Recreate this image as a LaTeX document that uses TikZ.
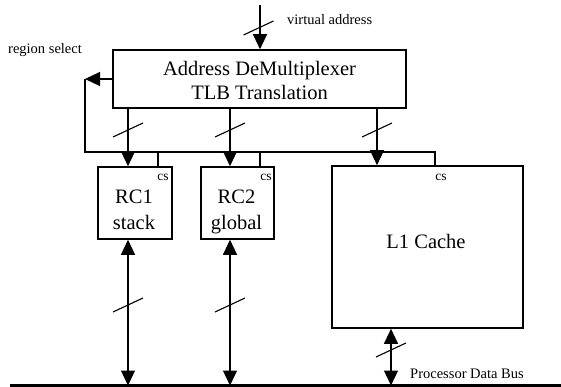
\documentclass[tikz,border=0pt]{standalone}
\usepackage{fontspec}
\setmainfont{Liberation Serif}
\usetikzlibrary{arrows.meta}

\begin{document}
\begin{tikzpicture}[x=1pt,y=-1pt,
  wire/.style={line width=1.2pt},
  arr/.style={wire,-{Triangle[length=15pt,width=14pt]}},
  biarr/.style={wire,{Triangle[length=15pt,width=14pt]}-{Triangle[length=15pt,width=14pt]}},
  blockbox/.style={draw,line width=1.6pt,inner sep=0pt,minimum width=#1},
  bigtext/.style={font=\fontsize{20.5}{25}\selectfont,anchor=base,inner sep=0pt},
  smalltext/.style={font=\fontsize{14.5}{17}\selectfont,anchor=base west,inner sep=0pt},
  cstext/.style={font=\fontsize{13.5}{15}\selectfont,anchor=base,inner sep=0pt},
  busslash/.pic={\draw[line width=1.1pt] (-15,7) -- (15,-7);}
]
\useasboundingbox (0,0) rectangle (561,387);

% blocks
\node[blockbox=293pt,minimum height=58pt] (demux) at (259.5,79) {};
\node[blockbox=74pt,minimum height=72pt] (rc1) at (135,203) {};
\node[blockbox=73pt,minimum height=72pt] (rc2) at (237.5,203) {};
\node[blockbox=191pt,minimum height=162pt] (l1) at (427.5,247) {};

% block texts
\node[bigtext] (dm1) at (259.5,76) {Address DeMultiplexer};
\node[bigtext] (dm2) at (259.5,100) {TLB Translation};
\node[bigtext] (rc1a) at (134,204) {RC1};
\node[bigtext] (rc1b) at (134,229) {stack};
\node[bigtext] (rc2a) at (236.5,204) {RC2};
\node[bigtext] (rc2b) at (236.5,229) {global};
\node[bigtext] (l1t) at (426,248) {L1 Cache};
\node[cstext] (cs1) at (163,181) {cs};
\node[cstext] (cs2) at (266,181) {cs};
\node[cstext] (cs3) at (441,181) {cs};

% labels
\node[smalltext] (valab) at (287,25) {virtual address};
\node[smalltext] (rslab) at (8,54) {region select};
\node[smalltext] (pdb) at (410,378) {Processor Data Bus};

% virtual address input
\coordinate (va) at (260,5);
\draw[arr] (va) -- (va |- demux.north);
\pic at (258.5,28) {busslash};

% region select line feeding the chip selects
\coordinate (rs) at (85,79);
\coordinate (cscorner) at (435,152);
\coordinate (cs1tap) at (158,152);
\coordinate (cs2tap) at (260,152);
\draw[arr] (demux.west) -- (rs);
\draw[wire] (rs) |- (cscorner) -- (cscorner |- l1.north);
\draw[wire] (cs1tap) -- (cs1tap |- rc1.north);
\draw[wire] (cs2tap) -- (cs2tap |- rc2.north);

% translated address outputs
\coordinate (o1) at (128,108);
\coordinate (o2) at (230,108);
\coordinate (o3) at (377,108);
\draw[arr] (o1) -- (o1 |- rc1.north);
\draw[arr] (o2) -- (o2 |- rc2.north);
\draw[arr] (o3) -- (o3 |- l1.north);
\pic at (128,130) {busslash};
\pic at (230,130) {busslash};
\pic at (377,130) {busslash};

% processor data bus
\coordinate (busl) at (10,385.5);
\coordinate (busr) at (561,385.5);
\draw[line width=2.4pt] (busl) -- (busr);

\coordinate (b1) at (128,385.5);
\coordinate (b2) at (230,385.5);
\coordinate (b3) at (391,385.5);
\draw[biarr] (b1 |- rc1.south) -- (b1);
\draw[biarr] (b2 |- rc2.south) -- (b2);
\draw[biarr] (b3 |- l1.south) -- (b3);
\pic at (128,305) {busslash};
\pic at (230,305) {busslash};
\pic at (391,350) {busslash};
\end{tikzpicture}
\end{document}
